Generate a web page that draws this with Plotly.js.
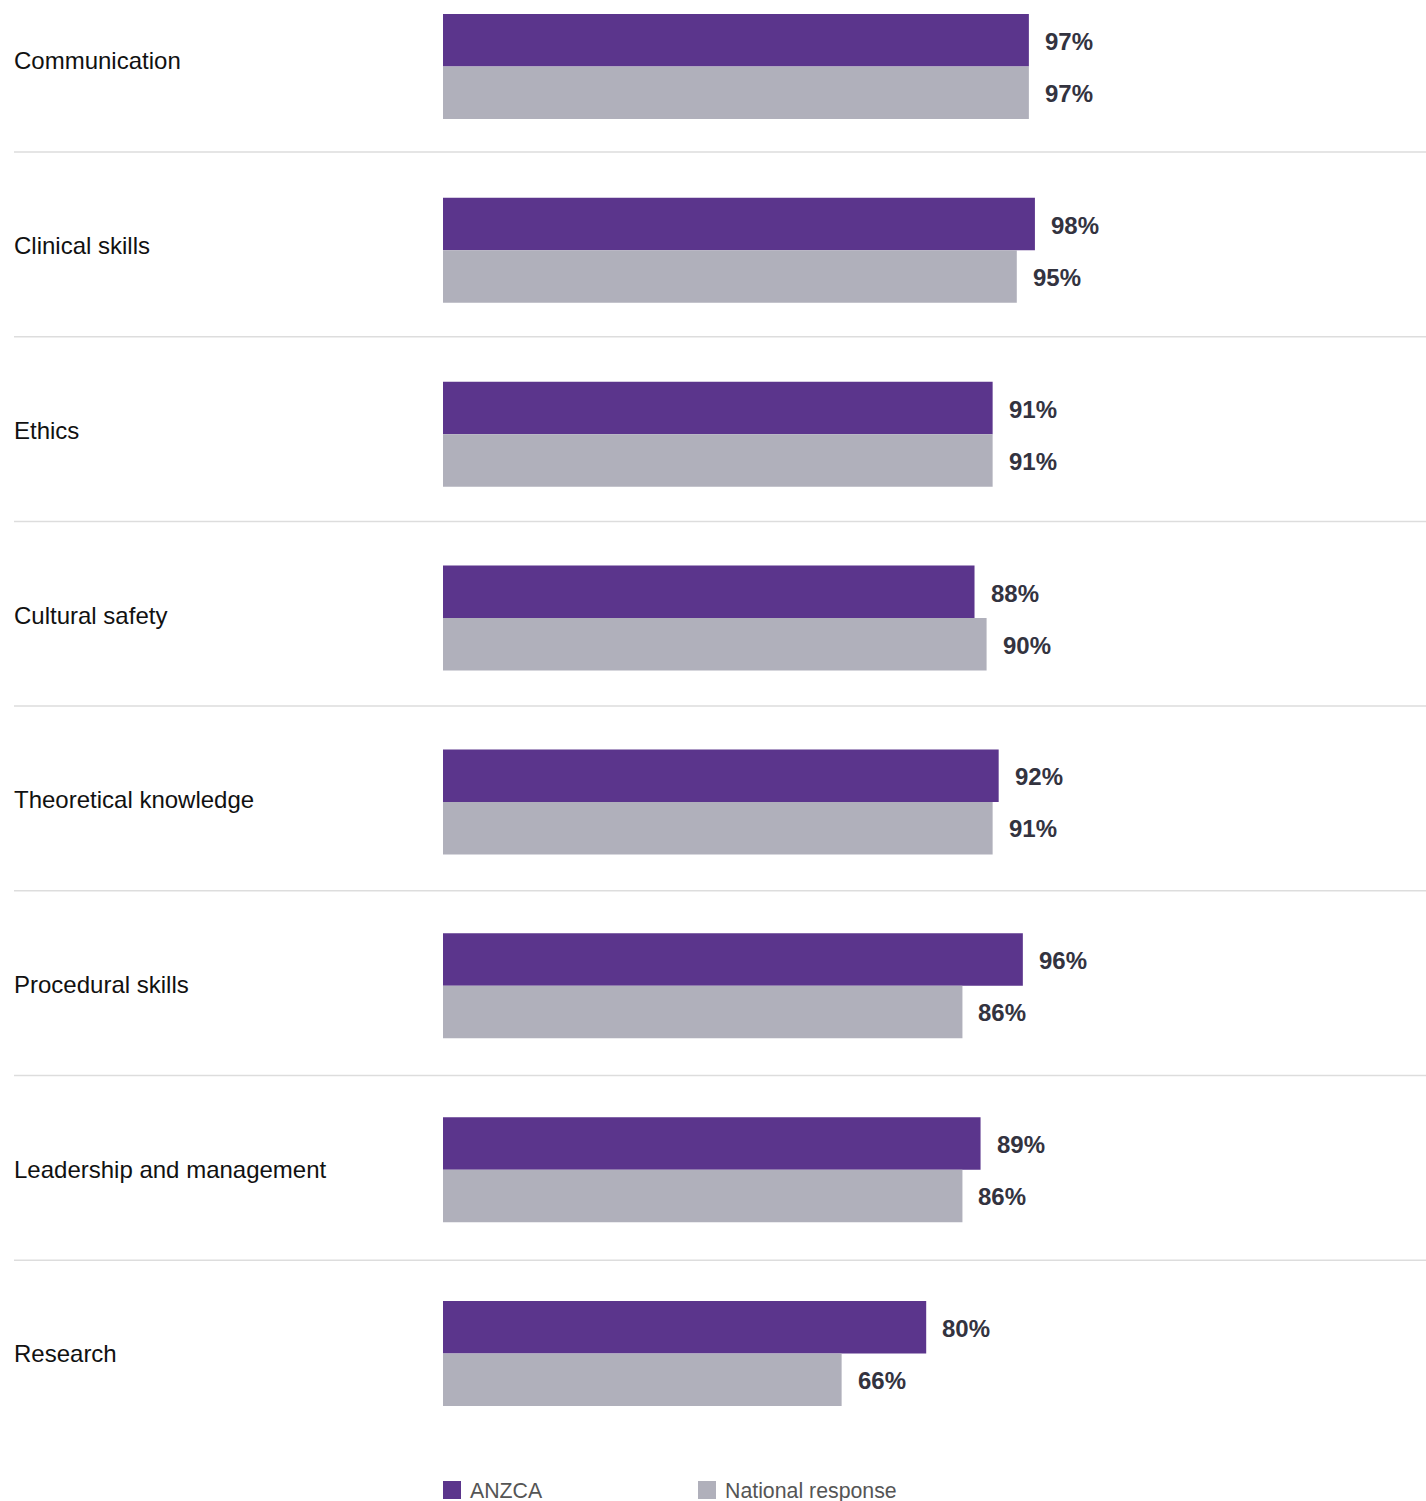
<!DOCTYPE html>
<html>
<head>
<meta charset="utf-8">
<script src="https://cdn.plot.ly/plotly-3.0.1.min.js"></script>
<style>html,body{margin:0;padding:0;background:#fff;}#chart{width:1426px;height:1501px;}</style>
</head>
<body>
<div id="chart"></div>
<script>
const categories = ["Communication","Clinical skills","Ethics","Cultural safety","Theoretical knowledge","Procedural skills","Leadership and management","Research"];
const anzca = [97, 98, 91, 88, 92, 96, 89, 80];
const national = [97, 95, 91, 90, 91, 86, 86, 66];
const seriesNames = ["ANZCA", "National response"];
const colors = ["#5b358c", "#b0b0bb"];

const FONT = "Liberation Sans, Arial, sans-serif";
const W = 1426, H = 1501, ML = 443, MB = 71;
const plotW = W - ML;
const pxPerPct = 6.04;
const xMax = plotW / pxPerPct;
const plotH = H - MB;
const firstCenter = 66.5, step = 183.86;
const yTop = -firstCenter / step;
const yBottom = (plotH - firstCenter) / step;
const labelX = (14 - ML) / plotW;
const rowStep = 1.0046;

const traces = [
  {type: "bar", orientation: "h", name: seriesNames[0], y: categories, x: anzca,
   marker: {color: colors[0]}, hoverinfo: "x+y"},
  {type: "bar", orientation: "h", name: seriesNames[1], y: categories, x: national,
   marker: {color: colors[1]}, hoverinfo: "x+y"}
];

const annotations = [];
const shapes = [];
categories.forEach((c, i) => {
  annotations.push({xref: "paper", yref: "y", x: labelX, y: -0.03 + i * rowStep, xanchor: "left", yanchor: "middle",
    text: c, showarrow: false, xshift: -2, font: {family: FONT, size: 24, color: "#111111"}});
  annotations.push({xref: "x", yref: "y", x: anzca[i], y: c, xanchor: "left", yanchor: "middle",
    text: "<b>" + anzca[i] + "%</b>", showarrow: false, xshift: 14, yshift: 25,
    font: {family: FONT, size: 24, color: "#33333f"}});
  annotations.push({xref: "x", yref: "y", x: national[i], y: c, xanchor: "left", yanchor: "middle",
    text: "<b>" + national[i] + "%</b>", showarrow: false, xshift: 14, yshift: -27,
    font: {family: FONT, size: 24, color: "#33333f"}});
  if (i < categories.length - 1) {
    const yl = i * rowStep + 0.465;
    shapes.push({type: "line", xref: "paper", yref: "y", x0: labelX, x1: 1, y0: yl, y1: yl,
      line: {color: "#dddddd", width: 1.5}});
  }
});

// Manual legend
const legX = [443, 698];
seriesNames.forEach((n, k) => {
  const x0 = (legX[k] - ML) / plotW;
  const x1 = (legX[k] + 18 - ML) / plotW;
  const y0 = 1 - 1481 / plotH, y1 = 1 - 1499 / plotH;
  shapes.push({type: "rect", xref: "paper", yref: "paper", x0: x0, x1: x1, y0: y0, y1: y1,
    fillcolor: colors[k], line: {width: 0}});
  annotations.push({xref: "paper", yref: "paper", x: (legX[k] + 25 - ML) / plotW, y: 1 - 1491 / plotH,
    xanchor: "left", yanchor: "middle", text: n, showarrow: false,
    font: {family: FONT, size: 21.3, color: "#555555"}});
});

const layout = {
  width: W, height: H,
  margin: {l: ML, r: 0, t: 0, b: MB, pad: 0},
  paper_bgcolor: "#ffffff", plot_bgcolor: "#ffffff",
  barmode: "group", bargap: 0.429, bargroupgap: 0,
  showlegend: false,
  xaxis: {range: [0, xMax], showgrid: false, zeroline: false, showticklabels: false, showline: false, fixedrange: true},
  yaxis: {type: "category", range: [yBottom, yTop], showgrid: false, zeroline: false, showticklabels: false, showline: false, fixedrange: true},
  annotations: annotations,
  shapes: shapes,
  font: {family: FONT}
};

Plotly.newPlot("chart", traces, layout, {displayModeBar: false, staticPlot: true});
</script>
</body>
</html>
